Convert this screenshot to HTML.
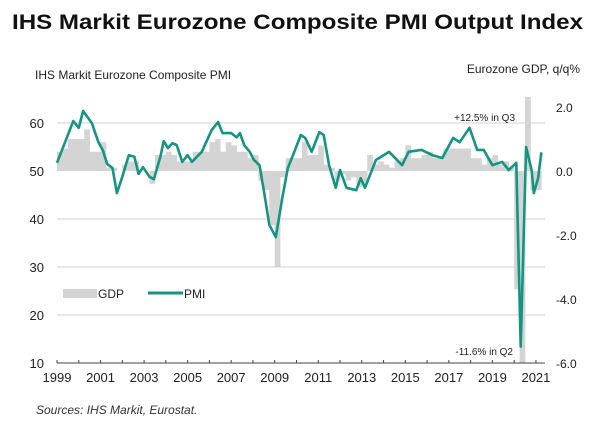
<!DOCTYPE html>
<html><head><meta charset="utf-8"><style>
body{margin:0;background:#fff;font-family:"Liberation Sans",Arial,sans-serif;}
svg text{font-family:"Liberation Sans",Arial,sans-serif;}
</style></head><body>
<svg id="chart" width="600" height="429" viewBox="0 0 600 429">
<text x="12" y="29" font-size="21" font-weight="bold" fill="#111" textLength="571" lengthAdjust="spacingAndGlyphs">IHS Markit Eurozone Composite PMI Output Index</text>
<text x="35" y="79" font-size="12" fill="#222">IHS Markit Eurozone Composite  PMI</text>
<text x="580" y="73" font-size="12" fill="#222" text-anchor="end">Eurozone GDP, q/q%</text>
<g id="grid"></g><g id="bars"></g><g id="line"></g><g id="axes"></g>
<text x="515" y="121" font-size="10" fill="#222" text-anchor="end">+12.5% in Q3</text>
<text x="513" y="355" font-size="10" fill="#222" text-anchor="end">-11.6% in Q2</text>
<rect x="63" y="289" width="34" height="9" fill="#d4d4d4"/>
<text x="98" y="298" font-size="12" fill="#222">GDP</text>
<line x1="148" y1="293" x2="183" y2="293" stroke="#139582" stroke-width="3"/>
<text x="184" y="298" font-size="12" fill="#222">PMI</text>
<text x="36" y="414" font-size="12" font-style="italic" fill="#333">Sources: IHS Markit, Eurostat.</text>
</svg>
<script>
const leftTicks=[10,20,30,40,50,60];
const rightTicks=["2.0","0.0","-2.0","-4.0","-6.0"];
const yearLabels=[1999,2001,2003,2005,2007,2009,2011,2013,2015,2017,2019,2021];
const gdpStart=1999;
const gdpValues=[0.6,0.7,1.0,1.0, 1.0,1.3,0.6,0.6, 0.9,0.1,0.1,0.0, 0.2,0.3,0.3,0.0, 0.0,-0.4,0.5,0.5, 0.6,0.5,0.3,0.3, 0.3,0.6,0.6,0.6, 0.9,1.0,0.6,0.9, 0.8,0.6,0.6,0.4, 0.5,-0.3,-0.6,-1.7, -3.0,-0.2,0.4,0.4, 0.4,0.9,0.5,0.5, 0.8,0.2,0.1,-0.3, -0.1,-0.3,-0.2,-0.5, -0.4,0.5,0.2,0.3, 0.2,0.1,0.3,0.4, 0.8,0.4,0.4,0.5, 0.6,0.4,0.4,0.7, 0.7,0.7,0.7,0.7, 0.4,0.4,0.2,0.4, 0.5,0.2,0.3,0.1, -3.7,-11.6,12.5,-0.6, -0.6];
const pmiDates=[1999.0,1999.75,2000.0,2000.2,2000.6,2000.9,2001.1,2001.3,2001.55,2001.75,2002.0,2002.3,2002.55,2002.75,2002.95,2003.25,2003.45,2003.75,2003.9,2004.1,2004.3,2004.5,2004.75,2005.0,2005.2,2005.65,2006.1,2006.4,2006.6,2007.0,2007.25,2007.4,2007.6,2007.85,2008.05,2008.3,2008.5,2008.75,2009.05,2009.35,2009.6,2009.9,2010.2,2010.4,2010.7,2011.05,2011.25,2011.5,2011.8,2012.0,2012.3,2012.75,2012.95,2013.15,2013.65,2014.25,2014.85,2015.15,2015.75,2016.25,2016.7,2017.2,2017.5,2017.95,2018.3,2018.6,2019.0,2019.45,2019.75,2020.1,2020.3,2020.55,2020.8,2020.9,2021.1,2021.25];
const pmiValues=[51.7,60.4,59.0,62.5,60.0,56.0,54.4,51.5,50.6,45.4,48.8,53.3,53.0,49.4,50.8,48.8,48.3,53.0,56.2,54.8,55.8,55.4,51.9,53.3,51.9,54.0,58.5,60.2,57.9,57.9,57.0,57.9,55.4,54.0,52.3,51.2,46.0,38.8,36.2,44.4,50.6,54.0,57.5,56.9,54.0,58.1,57.5,51.2,46.5,50.2,46.5,46.0,48.5,46.5,52.3,54.0,51.2,54.0,54.4,53.3,52.7,56.9,56.0,59.0,54.4,54.4,51.2,51.9,50.2,51.7,13.4,55.0,50.2,45.4,48.5,53.9];

const NS="http://www.w3.org/2000/svg";
const X0=57,XPY=21.77,PL=57,PR=545,PT=97,PB=363;
const xs=t=>X0+(t-1999)*XPY;
const yL=v=>171-(v-50)*4.8;
const yR=v=>171-v*32;
function mk(tag,attrs,parent,txt){const e=document.createElementNS(NS,tag);for(const k in attrs)e.setAttribute(k,attrs[k]);if(txt!==undefined)e.textContent=txt;document.getElementById(parent).appendChild(e);return e;}
leftTicks.forEach(v=>{
  if(v!==50&&v!==10){const g=mk('line',{x1:PL,x2:PR,y1:yL(v),y2:yL(v),stroke:'#d0d0d0','stroke-width':1},'grid');
  
  }
  const t=mk('text',{x:44,y:yL(v)+5,'font-size':13,'text-anchor':'end',fill:'#222'},'axes',v);
  
  
});
rightTicks.forEach(s=>{
  const t=mk('text',{x:556,y:yR(parseFloat(s))+5,'font-size':12,fill:'#222'},'axes',s);
  
  
});
gdpValues.forEach((v,i)=>{
  const t=gdpStart+i/4;
  let y1=yR(Math.max(v,0)),y2=yR(Math.min(v,0));
  y1=Math.max(y1,PT);y2=Math.min(y2,PB);
  const r=mk('rect',{x:xs(t),y:y1,width:XPY/4+0.3,height:Math.max(0,y2-y1),fill:'#d4d4d4'},'bars');
  
  
});
const pts=pmiDates.map((d,i)=>xs(d).toFixed(1)+','+yL(pmiValues[i]).toFixed(1)).join(' ');
const pl=mk('polyline',{points:pts,fill:'none',stroke:'#139582','stroke-width':2.6,'stroke-linejoin':'round'},'line');


const ax=mk('line',{x1:PL,x2:PR,y1:PB,y2:PB,stroke:'#444','stroke-width':1},'axes');


for(let y=1999;y<=2021;y++){const tk=mk('line',{x1:xs(y),x2:xs(y),y1:PB,y2:PB-3,stroke:'#444'},'axes');
  
  }
yearLabels.forEach(y=>{const t=mk('text',{x:xs(y),y:PB+19,'font-size':13,'text-anchor':'middle',fill:'#222'},'axes',y);
  
  });
</script>
</body></html>
